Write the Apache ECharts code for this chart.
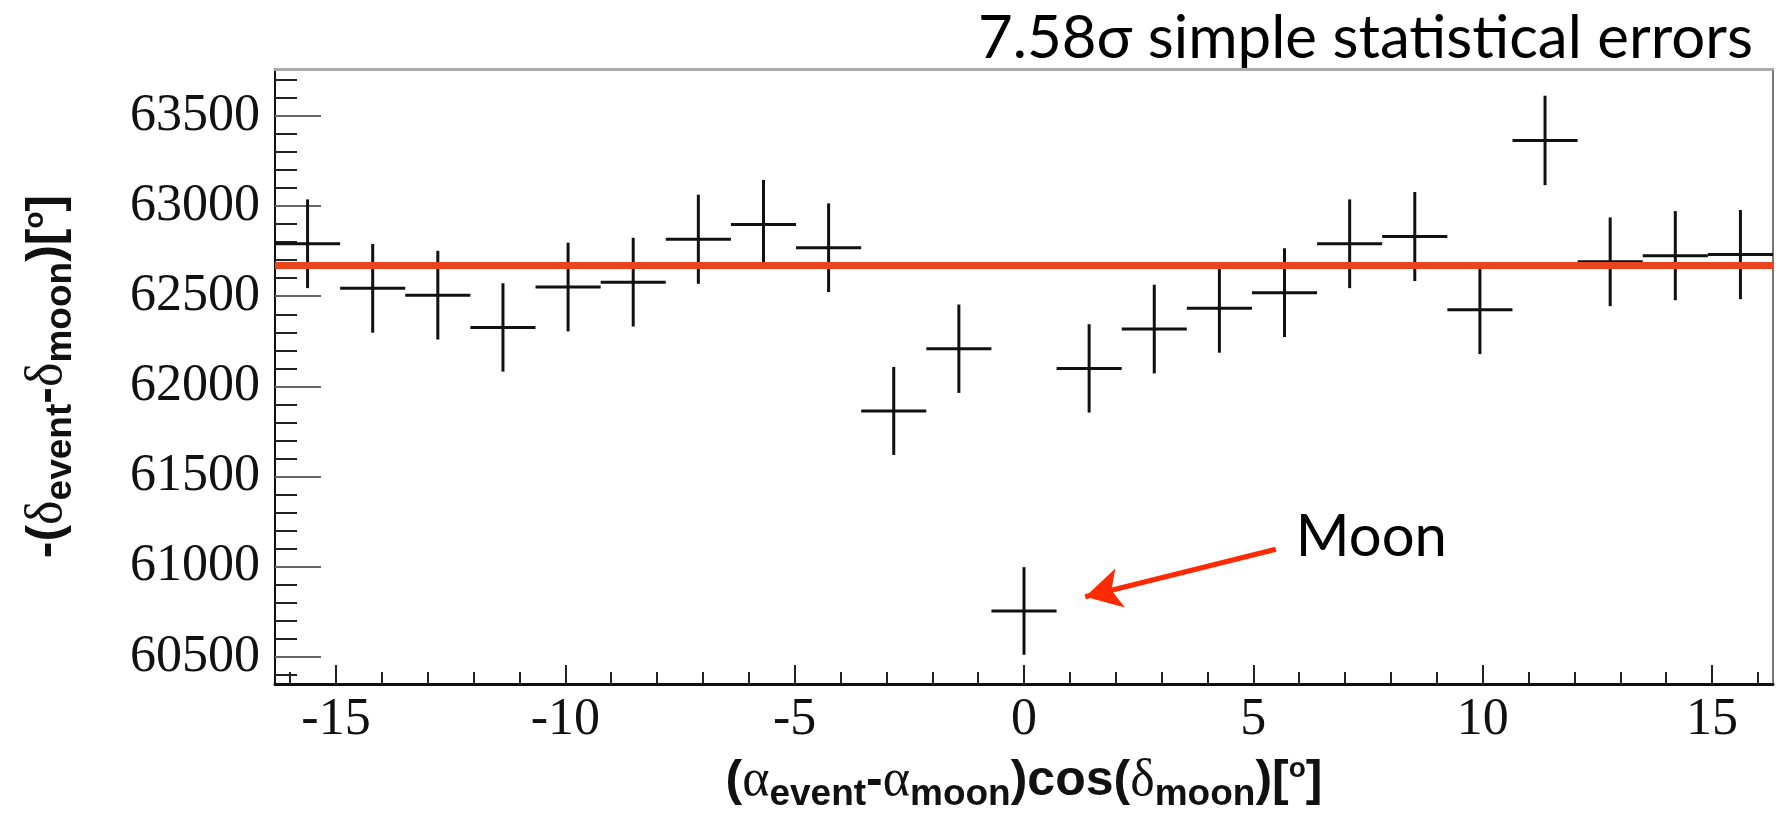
<!DOCTYPE html>
<html><head><meta charset="utf-8">
<script src="https://cdn.jsdelivr.net/npm/echarts@6/dist/echarts.min.js"></script>
<style>html,body{margin:0;padding:0;background:#fff}#c{width:1782px;height:818px}</style>
</head><body><div id="c"></div>
<script>
// ---- data ----
const binCenters = [-15.62,-14.2,-12.78,-11.36,-9.94,-8.52,-7.1,-5.68,-4.26,-2.84,-1.42,0,1.42,2.84,4.26,5.68,7.1,8.52,9.94,11.36,12.78,14.2,15.62];
const counts = [62791,62544,62506,62327,62551,62578,62816,62898,62769,61864,62209,60755,62100,62318,62433,62520,62791,62831,62425,63364,62691,62725,62731];
const countErrors = [246,246,246,245,246,246,247,247,246,244,245,243,245,246,246,246,246,247,246,248,246,247,247];
const binHalfWidth = 0.71;
const fitLevel = 62670;
const xRange = [-16.33, 16.33];
const yRange = [60350, 63760];
const xMajorTicks = [-15,-10,-5,0,5,10,15];
const xMinorTicks = [-16,-14,-13,-12,-11,-9,-8,-7,-6,-4,-3,-2,-1,1,2,3,4,6,7,8,9,11,12,13,14,16];
const yMajorTicks = [60500,61000,61500,62000,62500,63000,63500];
const yMinorTicks = [60400,60600,60700,60800,60900,61100,61200,61300,61400,61600,61700,61800,61900,62100,62200,62300,62400,62600,62700,62800,62900,63100,63200,63300,63400,63600,63700];
const titleText = '7.58σ simple statistical errors';
const moonLabel = 'Moon';
const arrowFrom = [5.49, 61097];
const arrowTo = [1.335, 60834];

const points = binCenters.map((x, i) => [x, counts[i], countErrors[i]]);

const chart = echarts.init(document.getElementById('c'), null, {renderer: 'canvas'});
const sans = "'Liberation Sans', Arial, sans-serif";
const serif = "'Liberation Serif', 'Times New Roman', serif";
const rich = {
  m: {fontFamily: sans, fontWeight: 'bold', fontSize: 50, color: '#111'},
  g: {fontFamily: serif, fontSize: 52, color: '#111'},
  s: {fontFamily: sans, fontWeight: 'bold', fontSize: 37, color: '#111', padding: [26, 0, 0, 0]},
  p: {fontFamily: sans, fontWeight: 'bold', fontSize: 28, color: '#111', padding: [0, 0, 24, 0]}
};
const noAxisExtras = {axisLabel: {show: false}, axisTick: {show: false}, splitLine: {show: false}};

const option = {
  animation: false,
  backgroundColor: '#fff',
  title: {
    text: titleText, right: 24, top: 4,
    textStyle: {fontFamily: 'Lato', fontWeight: 'normal', fontSize: 60, color: '#000'}
  },
  grid: {left: 275, right: 9, top: 69, bottom: 123, show: false},
  xAxis: [
    {
      type: 'value', min: xRange[0], max: xRange[1], position: 'bottom',
      axisLine: {show: true, onZero: false, lineStyle: {color: '#111', width: 3}},
      axisTick: {show: true, inside: true, length: 19, customValues: xMajorTicks, lineStyle: {color: '#222', width: 2}},
      axisLabel: {show: true, customValues: xMajorTicks, margin: 10, fontFamily: serif, fontSize: 52, color: '#111',
        formatter: v => String(v)},
      splitLine: {show: false},
      name: '{m|(}{g|α}{s|event}{m|-}{g|α}{s|moon}{m|)cos(}{g|δ}{s|moon}{m|)[}{p|o}{m|]}',
      nameLocation: 'middle', nameGap: 66,
      nameTextStyle: {rich: rich}
    },
    {
      type: 'value', min: xRange[0], max: xRange[1], position: 'bottom',
      axisLine: {show: false, onZero: false},
      axisTick: {show: true, inside: true, length: 12, customValues: xMinorTicks, lineStyle: {color: '#222', width: 2}},
      axisLabel: {show: false}, splitLine: {show: false}
    },
    Object.assign({
      type: 'value', min: xRange[0], max: xRange[1], position: 'top',
      axisLine: {show: true, onZero: false, lineStyle: {color: '#aaa', width: 3}}
    }, noAxisExtras)
  ],
  yAxis: [
    {
      type: 'value', min: yRange[0], max: yRange[1], position: 'left',
      axisLine: {show: true, onZero: false, lineStyle: {color: '#111', width: 2}},
      axisTick: {show: true, inside: true, length: 46, customValues: yMajorTicks, lineStyle: {color: '#666', width: 2}},
      axisLabel: {show: true, customValues: yMajorTicks, margin: 15, fontFamily: serif, fontSize: 52, color: '#111',
        formatter: v => String(v)},
      splitLine: {show: false},
      name: '{m|-(}{g|δ}{s|event}{m|-}{g|δ}{s|moon}{m|)[}{p|o}{m|]}',
      nameLocation: 'middle', nameGap: 196, nameRotate: 90,
      nameTextStyle: {rich: rich}
    },
    {
      type: 'value', min: yRange[0], max: yRange[1], position: 'left',
      axisLine: {show: false, onZero: false},
      axisTick: {show: true, inside: true, length: 22, customValues: yMinorTicks, lineStyle: {color: '#222', width: 2}},
      axisLabel: {show: false}, splitLine: {show: false}
    },
    Object.assign({
      type: 'value', min: yRange[0], max: yRange[1], position: 'right',
      axisLine: {show: true, onZero: false, lineStyle: {color: '#777', width: 2}}
    }, noAxisExtras)
  ],
  series: [{
    type: 'custom',
    xAxisIndex: 0, yAxisIndex: 0,
    data: points,
    encode: {x: 0, y: 1},
    renderItem: function (params, api) {
      const x = api.value(0), y = api.value(1), e = api.value(2);
      const c = api.coord([x, y]);
      const top = api.coord([x, y + e]);
      const bot = api.coord([x, y - e]);
      const l = api.coord([x - binHalfWidth, y]);
      const r = api.coord([x + binHalfWidth, y]);
      const st = {stroke: '#111', lineWidth: 3};
      return {type: 'group', children: [
        {type: 'line', shape: {x1: l[0], y1: c[1], x2: r[0], y2: c[1]}, style: st},
        {type: 'line', shape: {x1: c[0], y1: top[1], x2: c[0], y2: bot[1]}, style: st}
      ]};
    },
    markLine: {
      silent: true, animation: false, symbol: 'none',
      label: {show: false},
      data: [
        {yAxis: fitLevel, lineStyle: {color: '#e8441e', width: 7, type: 'solid'}},
        [
          {coord: arrowFrom, symbol: 'none', lineStyle: {color: '#ff2a00', width: 5, type: 'solid'}},
          {coord: arrowTo, symbol: 'arrow', symbolSize: [30, 36]}
        ]
      ]
    }
  }]
};
chart.setOption(option);

const p = chart.convertToPixel({xAxisIndex: 0, yAxisIndex: 0}, arrowFrom);
chart.setOption({
  graphic: [{
    type: 'text', x: p[0] + 20, y: p[1] - 12,
    style: {text: moonLabel, fontFamily: 'Lato', fontSize: 58, fill: '#000', textAlign: 'left', textVerticalAlign: 'middle'}
  }]
});
</script></body></html>
